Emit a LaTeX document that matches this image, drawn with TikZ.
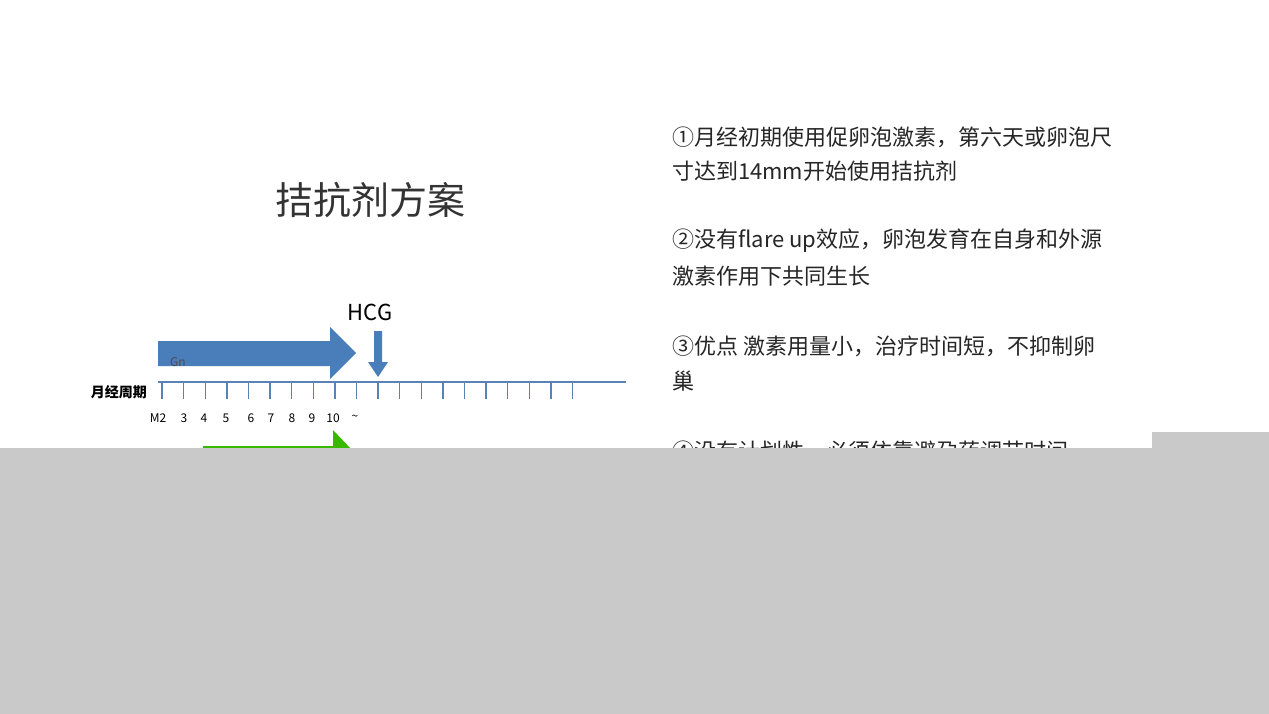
\documentclass[tikz,border=0pt]{standalone}
\usepackage{fontspec}
\setmainfont{Noto Sans CJK SC}
\begin{document}
\begin{tikzpicture}[x=1pt,y=-1pt,
  txt/.style={anchor=west,inner sep=0,font=\fontsize{22}{22}\selectfont,text=black!85},
  lbl/.style={inner sep=0,font=\fontsize{12}{12}\selectfont}]
\useasboundingbox (0,0) rectangle (1269,714);
\fill[white] (0,0) rectangle (1269,714);
\node[inner sep=0,font=\fontsize{38}{38}\selectfont,text=black!80] (title) at (370,200) {拮抗剂方案};
\colorlet{ab}{blue!45!cyan!60!black}
\definecolor{ab}{HTML}{4A7EBB}
\definecolor{ln}{HTML}{5B82B5}
% Gn arrow
\fill[ab] (158,341) -- (330,341) -- (330,327) -- (356,353) -- (330,379) -- (330,366) -- (158,366) -- cycle;
\node[lbl,text=black!70,anchor=west] (gn) at (170,362) {Gn};
% HCG arrow
\node[inner sep=0,font=\fontsize{22}{22}\selectfont] (hcg) at (370,312) {HCG};
\fill[ab] (374,331) -- (382,331) -- (382,362) -- (388,362) -- (378,377) -- (368,362) -- (374,362) -- cycle;
% timeline
\coordinate (l0) at (158,382); \coordinate (l1) at (626,382);
\draw[ln,line width=1.6pt] (l0) -- (l1);
\foreach \i in {0,...,19}{\draw[ln,line width=1.4pt] ({162+21.6*\i},382) -- ({162+21.6*\i},399);}
\node[inner sep=0,font=\bfseries\fontsize{14}{14}\selectfont,anchor=east] (yj) at (147,392) {月经周期};
\foreach \t/\x in {M2/158,3/184,4/204,5/226,6/251,7/271,8/292,9/312,10/333,\textasciitilde/355}{\node[lbl] at (\x,418) {\t};}
% green arrow (mostly hidden)
\fill[green!60!black!70!lime] (203,446) -- (333,446) -- (333,430) -- (352,450) -- (333,470) -- (333,460) -- (203,460) -- cycle;
% right text
\node[txt] (t1) at (672,137) {①月经初期使用促卵泡激素，第六天或卵泡尺};
\node[txt] (t2) at (672,171) {寸达到14mm开始使用拮抗剂};
\node[txt] (t3) at (672,241) {②没有flare up效应，卵泡发育在自身和外源};
\node[txt] (t4) at (672,276) {激素作用下共同生长};
\node[txt] (t5) at (672,346) {③优点 激素用量小，治疗时间短，不抑制卵};
\node[txt] (t6) at (672,381) {巢};
\node[txt] (t7) at (672,451) {④没有计划性，必须依靠避孕药调节时间};
% mask
\fill[black!21] (0,448) -- (1152,448) -- (1152,432) -- (1269,432) -- (1269,714) -- (0,714) -- cycle;
\end{tikzpicture}
\end{document}
